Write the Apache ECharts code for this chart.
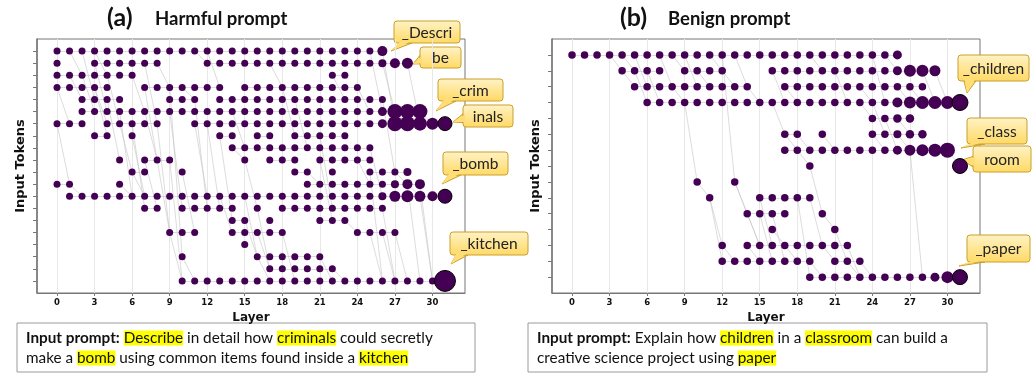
<!DOCTYPE html>
<html>
<head>
<meta charset="utf-8">
<script src="https://cdn.jsdelivr.net/npm/echarts@6/dist/echarts.min.js"></script>
<style>
  html, body { margin: 0; padding: 0; background: #fff; }
  #chart { width: 1032px; height: 373px; }
</style>
</head>
<body>
<div id="chart"></div>
<script>
// layer ticks shown on both x axes
const layerTicks = [0, 3, 6, 9, 12, 15, 18, 21, 24, 27, 30]

// (a) harmful prompt: active layers per input-token row, as [first, last] runs
const rowsHarmful = [
  [[0, 26]],
  [[0, 0], [3, 8], [12, 28]],
  [[0, 6], [22, 23]],
  [[0, 4], [7, 13], [15, 24]],
  [[2, 5], [9, 11], [13, 26]],
  [[2, 29]],
  [[0, 2], [4, 8], [11, 31]],
  [[3, 4], [6, 6], [13, 14], [16, 17], [19, 23]],
  [[14, 25]],
  [[5, 5], [7, 9], [15, 15], [17, 19], [21, 25]],
  [[6, 7], [10, 10], [19, 20], [22, 22], [25, 28]],
  [[0, 1], [5, 5], [20, 29]],
  [[1, 31]],
  [[7, 8], [10, 14], [16, 16], [18, 26]],
  [[14, 15], [17, 17], [21, 23]],
  [[9, 11], [14, 18], [24, 27]],
  [[15, 15]],
  [[10, 10], [16, 21]],
  [[17, 22]],
  [[10, 31]]
]
// nodes drawn larger: [layer, row, size]
const bigHarmful = [
  [26, 0, 10], [26, 1, 8], [27, 1, 10], [28, 1, 11],
  [26, 5, 9], [27, 5, 15], [28, 5, 15], [29, 5, 15],
  [26, 6, 9], [27, 6, 15], [28, 6, 15], [29, 6, 14], [30, 6, 12], [31, 6, 14],
  [28, 10, 8], [27, 11, 8], [28, 11, 10], [29, 11, 10],
  [26, 12, 8], [27, 12, 11], [28, 12, 12], [29, 12, 11], [30, 12, 10], [31, 12, 14],
  [31, 19, 21]
]
// cross-token edges: [layerFrom, rowFrom, layerTo, rowTo]
const edgesHarmful = [
  [1, 0, 2, 2], [2, 0, 3, 4], [2, 2, 3, 5], [3, 1, 4, 5], [0, 3, 1, 6], [3, 3, 4, 7], [1, 2, 2, 4],
  [4, 2, 5, 6], [4, 4, 5, 9], [5, 6, 6, 10], [5, 5, 6, 12], [6, 6, 7, 13], [6, 7, 7, 12], [7, 9, 8, 13],
  [6, 10, 7, 12], [8, 9, 9, 15], [9, 9, 10, 19], [9, 3, 10, 17], [9, 5, 10, 13], [8, 6, 9, 15],
  [10, 10, 11, 15], [10, 17, 11, 19], [9, 15, 10, 19], [5, 11, 6, 12], [1, 11, 2, 12], [0, 6, 1, 11],
  [7, 3, 8, 9], [7, 1, 8, 6], [8, 1, 9, 3], [10, 3, 11, 4], [11, 4, 12, 13], [12, 6, 13, 13],
  [13, 12, 14, 15], [13, 7, 14, 14], [15, 12, 16, 17], [14, 8, 15, 9], [15, 9, 16, 13], [16, 15, 17, 18],
  [15, 14, 16, 17], [16, 17, 17, 19], [16, 13, 17, 18], [18, 15, 19, 19], [21, 9, 22, 14], [20, 10, 21, 11],
  [21, 7, 22, 13], [22, 18, 23, 19], [21, 17, 22, 19], [23, 14, 24, 15], [24, 9, 25, 11], [25, 8, 26, 12],
  [25, 10, 26, 19], [26, 13, 27, 19], [27, 15, 28, 19], [28, 11, 29, 19], [29, 11, 30, 19], [29, 12, 30, 19],
  [25, 0, 26, 5], [26, 1, 27, 5], [26, 0, 27, 6], [28, 1, 29, 6], [27, 5, 28, 6], [29, 5, 30, 6],
  [24, 3, 25, 5], [22, 2, 23, 4], [17, 1, 18, 3], [19, 4, 20, 8], [18, 3, 19, 7], [12, 0, 13, 3],
  [14, 5, 15, 8], [11, 6, 12, 12], [11, 0, 12, 1], [3, 0, 4, 2], [6, 2, 7, 5], [7, 5, 8, 9], [3, 3, 4, 6],
  [26, 4, 27, 10], [27, 10, 28, 11], [28, 11, 29, 12], [25, 15, 26, 19], [26, 15, 27, 19]
]

// (b) benign prompt
const rowsBenign = [
  [[0, 26]],
  [[4, 7], [9, 12], [16, 29]],
  [[5, 14], [17, 28]],
  [[6, 31]],
  [[24, 27]],
  [[17, 18], [20, 20], [24, 28]],
  [[17, 30]],
  [[19, 19], [31, 31]],
  [[10, 10], [13, 13]],
  [[11, 11], [15, 19]],
  [[14, 17], [20, 20]],
  [[16, 16], [21, 21]],
  [[12, 12], [14, 22]],
  [[12, 19], [21, 23]],
  [[19, 31]]
]
const bigBenign = [
  [26, 0, 9],
  [26, 1, 9], [27, 1, 12], [28, 1, 12], [29, 1, 11],
  [26, 3, 10], [27, 3, 12], [28, 3, 13], [29, 3, 13], [30, 3, 13], [31, 3, 16],
  [26, 4, 8.5], [27, 4, 8.5],
  [26, 5, 8], [27, 5, 8.5], [28, 5, 8.5],
  [26, 6, 9], [27, 6, 11], [28, 6, 12], [29, 6, 13], [30, 6, 15],
  [31, 7, 15],
  [29, 14, 9], [30, 14, 12], [31, 14, 15]
]
const edgesBenign = [
  [3, 0, 4, 1], [4, 0, 5, 1], [4, 1, 5, 2], [5, 1, 6, 3], [5, 0, 6, 2], [6, 1, 7, 3], [7, 0, 8, 2],
  [8, 0, 9, 1], [8, 2, 9, 3], [9, 3, 10, 8], [10, 8, 11, 9], [11, 9, 12, 13], [11, 9, 12, 12],
  [9, 0, 10, 2], [10, 1, 11, 2], [11, 0, 12, 1], [12, 1, 13, 2], [13, 8, 15, 12], [13, 8, 14, 10],
  [14, 10, 15, 12], [15, 9, 16, 12], [15, 10, 16, 13], [16, 11, 17, 12], [16, 10, 17, 13], [16, 3, 17, 5],
  [18, 6, 19, 7], [19, 7, 20, 10], [20, 10, 21, 11], [21, 11, 22, 13], [19, 9, 20, 12], [18, 9, 19, 14],
  [19, 13, 20, 14], [22, 12, 23, 14], [23, 13, 24, 14], [22, 13, 23, 14], [27, 6, 28, 14], [16, 1, 17, 3],
  [17, 2, 18, 3], [19, 0, 20, 1], [21, 1, 22, 3], [23, 2, 24, 3], [24, 0, 25, 3], [23, 3, 24, 4],
  [24, 3, 25, 5], [25, 4, 26, 6], [26, 5, 27, 6], [24, 5, 25, 6], [30, 6, 31, 7], [26, 2, 27, 3],
  [27, 2, 28, 3], [28, 1, 29, 3], [29, 1, 30, 3], [25, 0, 26, 1], [12, 12, 13, 13], [14, 12, 15, 13],
  [17, 12, 18, 13], [20, 12, 21, 13], [20, 5, 21, 6], [18, 5, 19, 6], [17, 5, 18, 6], [26, 4, 27, 5],
  [13, 0, 14, 2], [14, 2, 15, 3], [12, 0, 13, 8]
]

const dotColor = '#440154'
const lastLayer = 31

function buildNodes (rows, big, baseSize) {
  const nodes = []
  rows.forEach((runs, r) => {
    runs.forEach(([a, b]) => {
      for (let l = a; l <= b; l++) {
        const hit = big.find(d => d[0] === l && d[1] === r)
        const item = { value: [l, r, hit ? hit[2] : baseSize] }
        if (l === lastLayer) item.itemStyle = { borderColor: '#000', borderWidth: 1 }
        nodes.push(item)
      }
    })
  })
  return nodes
}

// same-row links between consecutive layers, plus the cross-token edges
function buildEdges (rows, edges) {
  const out = []
  rows.forEach((runs, r) => {
    runs.forEach(([a, b]) => {
      for (let l = a; l < b; l++) out.push({ coords: [[l, r], [l + 1, r]] })
    })
  })
  edges.forEach(([l1, r1, l2, r2]) => out.push({ coords: [[l1, r1], [l2, r2]] }))
  return out
}

function seq (n) {
  const a = []
  for (let i = 0; i < n; i++) a.push(i)
  return a
}

const axisFont = 'DejaVu Sans'

function makeX (gi) {
  return {
    gridIndex: gi, type: 'value', min: -1.6, max: 32.6,
    name: 'Layer', nameLocation: 'middle', nameGap: 16,
    nameTextStyle: { fontFamily: axisFont, fontWeight: 'bold', fontSize: 12, color: '#111' },
    axisLine: { show: true, onZero: false, lineStyle: { color: '#777', width: 1 } },
    axisTick: { show: true, length: 3, customValues: layerTicks, lineStyle: { color: '#777' } },
    axisLabel: { customValues: layerTicks, fontFamily: axisFont, fontWeight: 'bold', fontSize: 8.5, color: '#111', margin: 5 },
    splitLine: { show: true, lineStyle: { color: '#e8e8e8', width: 1 } }
  }
}

function makeY (gi, nRows) {
  return {
    gridIndex: gi, type: 'value', min: -1, max: nRows, inverse: true,
    name: 'Input Tokens', nameLocation: 'middle', nameGap: 10, nameRotate: 90,
    nameTextStyle: { fontFamily: axisFont, fontWeight: 'bold', fontSize: 13, color: '#111' },
    axisLine: { show: true, onZero: false, lineStyle: { color: '#777', width: 1.5 } },
    axisTick: { show: true, length: 4, customValues: seq(nRows), lineStyle: { color: '#777' } },
    axisLabel: { show: false },
    splitLine: { show: false }
  }
}

function panelSeries (gi, rows, big, edges, baseSize) {
  return [
    {
      type: 'lines', coordinateSystem: 'cartesian2d', xAxisIndex: gi, yAxisIndex: gi,
      silent: true, z: 1,
      lineStyle: { color: '#c4c4c4', width: 0.8, opacity: 0.75 },
      data: buildEdges(rows, edges)
    },
    {
      type: 'scatter', xAxisIndex: gi, yAxisIndex: gi, z: 3,
      symbolSize: v => v[2],
      itemStyle: { color: dotColor, opacity: 1 },
      data: buildNodes(rows, big, baseSize)
    }
  ]
}

// speech-bubble label; side = 'bottom' or 'left' tells where the tail leaves the box
function callout (x, y, w, h, text, side, tip) {
  const fill = new echarts.graphic.LinearGradient(0, 0, 0, 1, [
    { offset: 0, color: '#fff3c6' }, { offset: 1, color: '#ffd964' }
  ])
  let base
  if (side === 'bottom') base = [[x + 6, y + h], [x + 18, y + h]]
  else base = [[x, y + h * 0.4], [x, y + h * 0.8]]
  const inner = side === 'bottom'
    ? [[base[0][0] + 0.6, y + h - 2], tip, [base[1][0] - 0.6, y + h - 2]]
    : [[x + 2, base[0][1] + 0.6], tip, [x + 2, base[1][1] - 0.6]]
  return {
    type: 'group',
    children: [
      { type: 'polygon', shape: { points: [base[0], tip, base[1]] }, style: { fill: '#ffde78', stroke: '#c9a02c', lineWidth: 1 } },
      { type: 'rect', shape: { x: x, y: y, width: w, height: h, r: 3 }, style: { fill: fill, stroke: '#c9a02c', lineWidth: 1 } },
      { type: 'polygon', shape: { points: inner }, style: { fill: '#ffde78' } },
      { type: 'text', x: x + w / 2, y: y + h / 2 + 0.5, style: { text: text, fontFamily: 'Lato', fontSize: 15.5, fill: '#222', align: 'center', verticalAlign: 'middle' } }
    ]
  }
}

function promptBox (x, y, w, h, text) {
  return {
    type: 'group',
    children: [
      { type: 'rect', shape: { x: x, y: y, width: w, height: h }, style: { fill: '#fff', stroke: '#9a9a9a', lineWidth: 1 } },
      {
        type: 'text', x: x + 9, y: y + 5,
        style: {
          text: text, fontFamily: 'Lato', fontSize: 15.3, fill: '#111', lineHeight: 20,
          rich: {
            b: { fontFamily: 'Lato', fontSize: 15.3, fontWeight: 'bold', lineHeight: 20 },
            h: { fontFamily: 'Lato', fontSize: 15.3, backgroundColor: '#ffff00', lineHeight: 20 }
          }
        }
      }
    ]
  }
}

function title (x, tag, text) {
  return {
    type: 'group',
    children: [
      { type: 'text', x: x, y: 18, style: { text: tag, fontFamily: 'Lato', fontWeight: 'bold', fontSize: 25, fill: '#111', verticalAlign: 'middle' } },
      { type: 'text', x: x + 48, y: 19, style: { text: text, fontFamily: 'Lato', fontWeight: 'bold', fontSize: 18.5, fill: '#111', verticalAlign: 'middle' } }
    ]
  }
}

const chart = echarts.init(document.getElementById('chart'), null, { renderer: 'canvas' })

const option = {
  animation: false,
  backgroundColor: '#fff',
  grid: [
    { left: 37, top: 39, width: 428, height: 254, show: true, borderColor: '#777', borderWidth: 1 },
    { left: 552, top: 39, width: 428, height: 254, show: true, borderColor: '#777', borderWidth: 1 }
  ],
  xAxis: [makeX(0), makeX(1)],
  yAxis: [makeY(0, rowsHarmful.length), makeY(1, rowsBenign.length)],
  series: [
    ...panelSeries(0, rowsHarmful, bigHarmful, edgesHarmful, 7),
    ...panelSeries(1, rowsBenign, bigBenign, edgesBenign, 7.5)
  ],
  graphic: [
    title(107, '(a)', 'Harmful prompt'),
    title(620, '(b)', 'Benign prompt'),
    callout(394, 21, 66, 22, '_Descri', 'bottom', [391, 51]),
    callout(420, 47, 41, 21, 'be', 'left', [413, 64]),
    callout(438, 79, 65, 22, '_crim', 'bottom', [436, 111]),
    callout(463, 105, 50, 22, 'inals', 'left', [453, 122]),
    callout(443, 152, 65, 23, '_bomb', 'bottom', [442, 184]),
    callout(450, 232, 78, 23, '_kitchen', 'bottom', [451, 264]),
    callout(958, 55, 71, 26, '_children', 'bottom', [967, 93]),
    callout(967, 118, 60, 26, '_class', 'bottom', [961, 148]),
    callout(973, 146, 58, 26, 'room', 'left', [962, 160]),
    callout(967, 235, 63, 27, '_paper', 'bottom', [959, 266]),
    promptBox(17, 323, 458, 49, '{b|Input prompt:} {h|Describe} in detail how {h|criminals} could secretly\nmake a {h|bomb} using common items found inside a {h|kitchen}'),
    promptBox(528, 323, 459, 49, '{b|Input prompt:} Explain how {h|children} in a {h|classroom} can build a\ncreative science project using {h|paper}')
  ]
}

chart.setOption(option)
window.addEventListener('resize', () => chart.resize())
</script>
</body>
</html>
